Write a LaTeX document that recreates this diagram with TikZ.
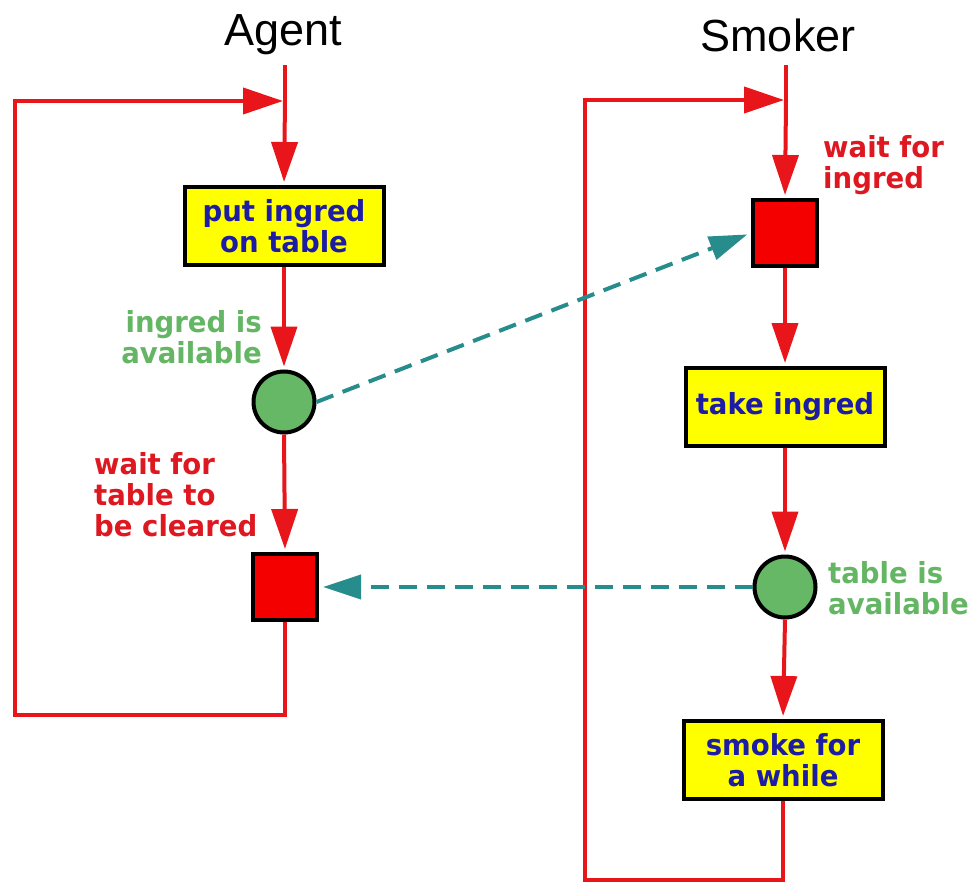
\documentclass[tikz,border=0pt]{standalone}
\usepackage{fontspec}
\setmainfont{Liberation Sans}
\newfontfamily\labfont{DejaVu Sans}[FakeStretch=0.95]
\usetikzlibrary{arrows.meta}

\definecolor{flowred}{RGB}{232,22,26}
\definecolor{waitred}{RGB}{245,0,0}
\definecolor{boxyellow}{RGB}{255,255,0}
\definecolor{boxblue}{RGB}{28,28,165}
\definecolor{semgreen}{RGB}{102,184,102}
\definecolor{txtgreen}{RGB}{100,182,100}
\definecolor{txtred}{RGB}{222,24,32}
\definecolor{signal}{RGB}{38,140,140}

\tikzset{
  labtext/.style={font=\labfont\bfseries\fontsize{29}{31}\selectfont, inner sep=0pt},
  action/.style={draw=black, line width=4pt, fill=boxyellow, text=boxblue,
    minimum width=199pt, minimum height=78pt, align=center, labtext},
  waitbox/.style={draw=black, line width=4pt, fill=waitred,
    minimum width=64pt, minimum height=66pt, inner sep=0pt},
  semdot/.style={circle, draw=black, line width=4pt, fill=semgreen,
    minimum size=61pt, inner sep=0pt},
  flow/.style={draw=flowred, line width=4pt,
    -{Triangle[length=40pt,width=26pt]}, color=flowred, shorten >=3pt},
  plain/.style={draw=flowred, line width=4pt, line join=miter},
  sig/.style={draw=signal, line width=4pt, dash pattern=on 18pt off 10pt,
    -{Triangle[length=38pt,width=24pt]}, color=signal, shorten >=4pt},
  redlab/.style={labtext, text=txtred, align=left},
  greenlab/.style={labtext, text=txtgreen},
  title/.style={font=\fontsize{45}{50}\selectfont, inner sep=0pt}
}

\begin{document}
\begin{tikzpicture}[x=1pt,y=-1pt]
\useasboundingbox (0,0) rectangle (973,890);

% ---------- Agent process ----------
\node[title] (agentT) at (283,35) {Agent};
\coordinate (aTop) at (285,65);
\coordinate (aJoin) at (285,101);
\coordinate (aLL) at (15,715);
\coordinate (aUL) at (15,101);

\node[action] (put) at (284,226) {put ingred\\on table};
\node[semdot] (cA) at (284,402) {};
\node[waitbox] (sqA) at (285,587) {};

\node[greenlab, anchor=east, align=right] (availA) at (262,337) {ingred is\\available};
\node[redlab, anchor=west] (waitA) at (94,495) {wait for\\table to\\be cleared};

\draw[plain] (aTop) -- (aJoin);
\draw[flow] (aJoin) -- (put.north);
\draw[flow] (put.south) -- (cA.north);
\draw[flow] (cA.south) -- (sqA.north);
\draw[flow, shorten >=2pt] (sqA.south) |- (aLL) -- (aUL) -- (aJoin);

% ---------- Smoker process ----------
\node[title] (smokerT) at (778,35) {Smoker};
\coordinate (sTop) at (786,65);
\coordinate (sJoin) at (786,100);
\coordinate (sLL) at (585,880);
\coordinate (sUL) at (585,100);

\node[waitbox] (sqS) at (785,233) {};
\node[action] (take) at (785,407) {take ingred};
\node[semdot] (cS) at (785,587) {};
\node[action] (smoke) at (783,760) {smoke for\\a while};

\node[redlab, anchor=west] (waitS) at (823,165) {wait for\\ingred};
\node[greenlab, anchor=west, align=left] (availS) at (828,588) {table is\\available};

\draw[plain] (sTop) -- (sJoin);
\draw[flow] (sJoin) -- (sqS.north);
\draw[flow] (sqS.south) -- (take.north);
\draw[flow] (take.south) -- (cS.north);
\draw[flow] (cS.south) -- (smoke.north);
\draw[flow, shorten >=2pt] (smoke.south) |- (sLL) -- (sUL) -- (sJoin);

% ---------- signals between the processes ----------
\draw[sig] (cA.east) -- (sqS.west);
\draw[sig] (cS.west) -- (sqA.east);
\end{tikzpicture}
\end{document}
